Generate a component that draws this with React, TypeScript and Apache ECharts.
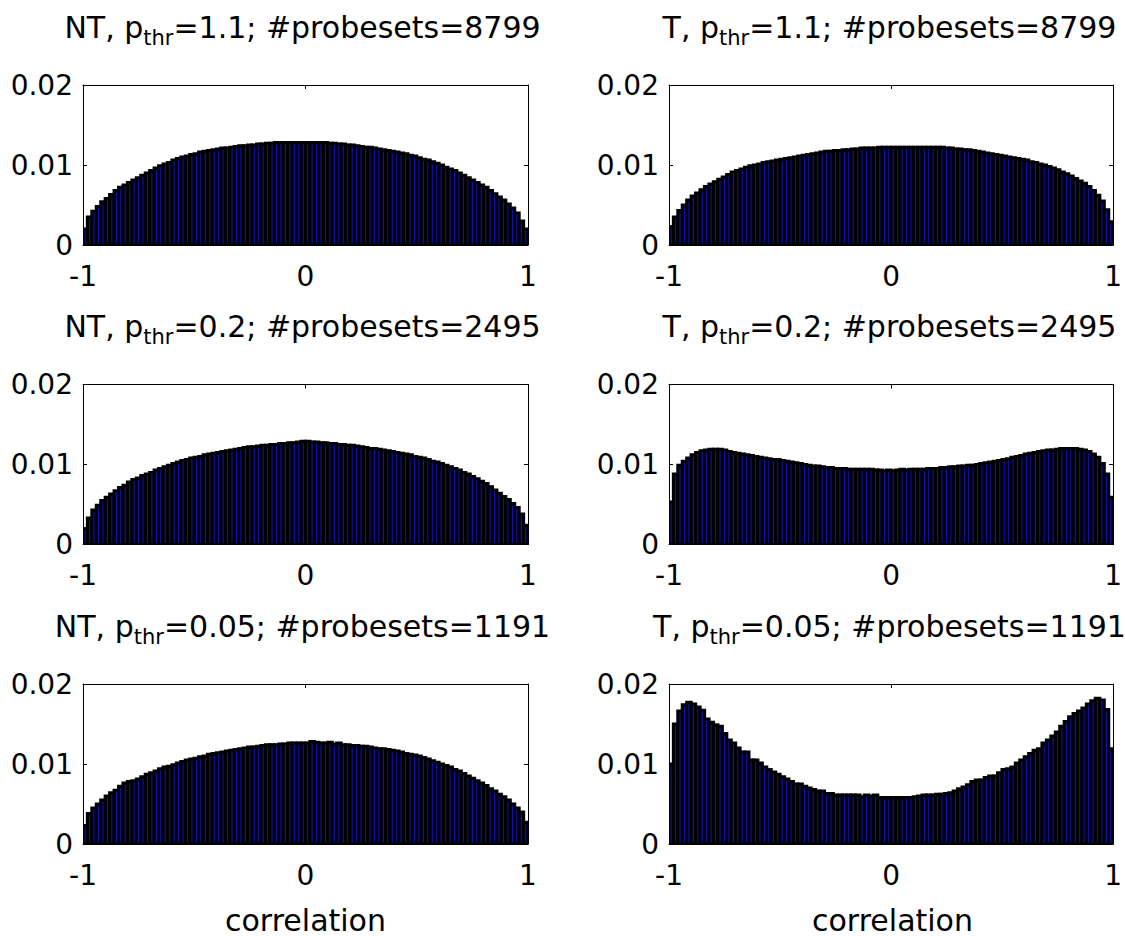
import React, { useEffect, useRef } from "react";
import * as echarts from "echarts";

// ---- data ----
const BIN_WIDTH = 0.02;
const BIN_CENTERS: number[] = Array.from({ length: 100 }, (_, i) => Math.round((-0.99 + 0.02 * i) * 100) / 100);

const NT_P11 = [
  0.0020, 0.0035, 0.0042, 0.0048, 0.0054, 0.0058, 0.0063, 0.0068, 0.0072, 0.0075,
  0.0078, 0.0081, 0.0084, 0.0087, 0.0090, 0.0093, 0.0096, 0.0099, 0.0101, 0.0103,
  0.0106, 0.0108, 0.0110, 0.0111, 0.0113, 0.0114, 0.0116, 0.0117, 0.0118, 0.0119,
  0.0120, 0.0121, 0.0121, 0.0122, 0.0123, 0.0124, 0.0124, 0.0125, 0.0125, 0.0126,
  0.0126, 0.0127, 0.0127, 0.0128, 0.0128, 0.0128, 0.0128, 0.0128, 0.0128, 0.0128,
  0.0128, 0.0128, 0.0128, 0.0128, 0.0128, 0.0127, 0.0127, 0.0126, 0.0126, 0.0125,
  0.0125, 0.0124, 0.0123, 0.0122, 0.0122, 0.0121, 0.0120, 0.0119, 0.0118, 0.0117,
  0.0116, 0.0115, 0.0114, 0.0112, 0.0111, 0.0109, 0.0107, 0.0106, 0.0104, 0.0102,
  0.0100, 0.0097, 0.0095, 0.0093, 0.0090, 0.0087, 0.0084, 0.0081, 0.0078, 0.0075,
  0.0072, 0.0068, 0.0064, 0.0060, 0.0056, 0.0051, 0.0046, 0.0040, 0.0030, 0.0020,
];

const T_P11 = [
  0.0023, 0.0035, 0.0043, 0.0050, 0.0056, 0.0061, 0.0065, 0.0069, 0.0073, 0.0076,
  0.0079, 0.0082, 0.0085, 0.0088, 0.0091, 0.0093, 0.0095, 0.0097, 0.0099, 0.0100,
  0.0101, 0.0103, 0.0104, 0.0105, 0.0106, 0.0107, 0.0108, 0.0109, 0.0110, 0.0111,
  0.0112, 0.0113, 0.0114, 0.0115, 0.0116, 0.0117, 0.0117, 0.0118, 0.0118, 0.0119,
  0.0119, 0.0120, 0.0120, 0.0121, 0.0121, 0.0121, 0.0121, 0.0122, 0.0122, 0.0122,
  0.0122, 0.0122, 0.0122, 0.0122, 0.0122, 0.0122, 0.0122, 0.0122, 0.0122, 0.0122,
  0.0122, 0.0122, 0.0121, 0.0121, 0.0120, 0.0120, 0.0119, 0.0119, 0.0118, 0.0117,
  0.0116, 0.0115, 0.0114, 0.0113, 0.0112, 0.0111, 0.0110, 0.0109, 0.0108, 0.0107,
  0.0106, 0.0104, 0.0103, 0.0101, 0.0100, 0.0098, 0.0096, 0.0094, 0.0091, 0.0089,
  0.0086, 0.0083, 0.0080, 0.0077, 0.0073, 0.0068, 0.0062, 0.0055, 0.0044, 0.0029,
];

const NT_P02 = [
  0.0020, 0.0033, 0.0043, 0.0049, 0.0055, 0.0059, 0.0063, 0.0067, 0.0071, 0.0074,
  0.0078, 0.0081, 0.0083, 0.0086, 0.0088, 0.0090, 0.0093, 0.0095, 0.0097, 0.0099,
  0.0101, 0.0103, 0.0105, 0.0106, 0.0108, 0.0109, 0.0110, 0.0112, 0.0113, 0.0114,
  0.0115, 0.0116, 0.0117, 0.0118, 0.0119, 0.0120, 0.0121, 0.0122, 0.0122, 0.0123,
  0.0124, 0.0124, 0.0125, 0.0125, 0.0126, 0.0126, 0.0127, 0.0127, 0.0128, 0.0129,
  0.0129, 0.0128, 0.0128, 0.0127, 0.0127, 0.0126, 0.0126, 0.0125, 0.0125, 0.0124,
  0.0124, 0.0123, 0.0122, 0.0121, 0.0120, 0.0120, 0.0119, 0.0118, 0.0117, 0.0116,
  0.0115, 0.0114, 0.0113, 0.0112, 0.0110, 0.0109, 0.0108, 0.0106, 0.0104, 0.0103,
  0.0101, 0.0099, 0.0097, 0.0095, 0.0093, 0.0090, 0.0088, 0.0085, 0.0082, 0.0079,
  0.0076, 0.0072, 0.0068, 0.0064, 0.0060, 0.0056, 0.0051, 0.0046, 0.0038, 0.0024,
];

const T_P02 = [
  0.0053, 0.0088, 0.0099, 0.0104, 0.0108, 0.0112, 0.0115, 0.0117, 0.0118, 0.0119,
  0.0119, 0.0119, 0.0118, 0.0116, 0.0115, 0.0114, 0.0113, 0.0112, 0.0111, 0.0110,
  0.0109, 0.0108, 0.0107, 0.0106, 0.0106, 0.0105, 0.0104, 0.0103, 0.0102, 0.0101,
  0.0100, 0.0099, 0.0098, 0.0098, 0.0097, 0.0096, 0.0096, 0.0095, 0.0095, 0.0095,
  0.0094, 0.0094, 0.0094, 0.0094, 0.0094, 0.0094, 0.0093, 0.0093, 0.0092, 0.0093,
  0.0092, 0.0093, 0.0094, 0.0093, 0.0094, 0.0094, 0.0094, 0.0094, 0.0095, 0.0095,
  0.0095, 0.0096, 0.0096, 0.0097, 0.0097, 0.0098, 0.0098, 0.0099, 0.0099, 0.0100,
  0.0101, 0.0102, 0.0103, 0.0104, 0.0105, 0.0106, 0.0107, 0.0109, 0.0110, 0.0111,
  0.0113, 0.0114, 0.0115, 0.0116, 0.0117, 0.0118, 0.0118, 0.0119, 0.0120, 0.0120,
  0.0120, 0.0120, 0.0119, 0.0118, 0.0116, 0.0113, 0.0109, 0.0101, 0.0088, 0.0059,
];

const NT_P005 = [
  0.0023, 0.0038, 0.0045, 0.0050, 0.0055, 0.0060, 0.0064, 0.0067, 0.0072, 0.0076,
  0.0078, 0.0079, 0.0081, 0.0084, 0.0087, 0.0089, 0.0091, 0.0094, 0.0096, 0.0097,
  0.0099, 0.0101, 0.0103, 0.0105, 0.0106, 0.0107, 0.0109, 0.0110, 0.0112, 0.0113,
  0.0114, 0.0115, 0.0116, 0.0117, 0.0118, 0.0119, 0.0120, 0.0121, 0.0121, 0.0122,
  0.0123, 0.0124, 0.0124, 0.0124, 0.0125, 0.0125, 0.0126, 0.0126, 0.0126, 0.0126,
  0.0126, 0.0128, 0.0127, 0.0126, 0.0126, 0.0127, 0.0125, 0.0126, 0.0124, 0.0124,
  0.0123, 0.0123, 0.0122, 0.0122, 0.0121, 0.0120, 0.0119, 0.0119, 0.0118, 0.0117,
  0.0116, 0.0115, 0.0113, 0.0112, 0.0111, 0.0110, 0.0108, 0.0106, 0.0104, 0.0102,
  0.0100, 0.0098, 0.0096, 0.0093, 0.0091, 0.0088, 0.0085, 0.0082, 0.0079, 0.0076,
  0.0073, 0.0069, 0.0066, 0.0062, 0.0059, 0.0055, 0.0050, 0.0045, 0.0040, 0.0027,
];

const T_P005 = [
  0.0100, 0.0150, 0.0166, 0.0174, 0.0177, 0.0175, 0.0171, 0.0167, 0.0156, 0.0152,
  0.0149, 0.0147, 0.0138, 0.0130, 0.0126, 0.0120, 0.0115, 0.0115, 0.0105, 0.0105,
  0.0101, 0.0096, 0.0093, 0.0090, 0.0087, 0.0084, 0.0081, 0.0078, 0.0075, 0.0075,
  0.0072, 0.0070, 0.0068, 0.0066, 0.0066, 0.0063, 0.0063, 0.0061, 0.0061, 0.0061,
  0.0061, 0.0061, 0.0061, 0.0059, 0.0061, 0.0060, 0.0061, 0.0058, 0.0058, 0.0058,
  0.0058, 0.0058, 0.0058, 0.0058, 0.0058, 0.0059, 0.0060, 0.0061, 0.0061, 0.0061,
  0.0062, 0.0062, 0.0063, 0.0064, 0.0066, 0.0069, 0.0071, 0.0074, 0.0078, 0.0080,
  0.0080, 0.0083, 0.0085, 0.0085, 0.0089, 0.0093, 0.0094, 0.0096, 0.0101, 0.0105,
  0.0109, 0.0113, 0.0117, 0.0119, 0.0126, 0.0130, 0.0135, 0.0140, 0.0147, 0.0153,
  0.0159, 0.0163, 0.0166, 0.0170, 0.0175, 0.0179, 0.0182, 0.0180, 0.0168, 0.0119,
];

const GROUPS = ["NT", "T"];
const P_THR = ["1.1", "0.2", "0.05"];
const PROBESETS = [8799, 2495, 1191];
const PANEL_DATA = [
  [NT_P11, T_P11],
  [NT_P02, T_P02],
  [NT_P005, T_P005],
];
const X_LABEL = "correlation";

// ---- layout ----
const FONT = "DejaVu Sans";
const GRID_LEFT = [83, 669];
const GRID_WIDTH = [445, 447];
const GRID_TOP = [85, 384.5, 684];
const GRID_HEIGHT = 160;
const TITLE_CENTER_Y = [30, 329.5, 629];
const BAR_FILL = "#1010b0";

export default function App() {
  const ref = useRef<HTMLDivElement>(null);

  useEffect(() => {
    if (!ref.current) return;
    const chart = echarts.init(ref.current, null, { renderer: "svg", width: 1125, height: 936 });

    const grids: any[] = [];
    const xAxes: any[] = [];
    const yAxes: any[] = [];
    const series: any[] = [];
    const graphics: any[] = [];

    const axisLine = { show: true, onZero: false, lineStyle: { color: "#000", width: 1 } };
    const axisTick = { show: true, inside: true, length: 4, lineStyle: { color: "#000", width: 1 } };

    for (let r = 0; r < 3; r++) {
      for (let c = 0; c < 2; c++) {
        const gi = grids.length;
        grids.push({
          left: GRID_LEFT[c],
          top: GRID_TOP[r],
          width: GRID_WIDTH[c],
          height: GRID_HEIGHT,
          containLabel: false,
        });
        const xi = xAxes.length;
        xAxes.push({
          type: "value",
          gridIndex: gi,
          position: "bottom",
          min: -1,
          max: 1,
          interval: 1,
          axisLine,
          axisTick,
          splitLine: { show: false },
          axisLabel: { color: "#000", fontFamily: FONT, fontSize: 28, margin: 17 },
        });
        xAxes.push({
          type: "value",
          gridIndex: gi,
          position: "top",
          min: -1,
          max: 1,
          interval: 1,
          axisLine,
          axisTick,
          splitLine: { show: false },
          axisLabel: { show: false },
        });
        const yi = yAxes.length;
        yAxes.push({
          type: "value",
          gridIndex: gi,
          position: "left",
          min: 0,
          max: 0.02,
          interval: 0.01,
          axisLine,
          axisTick,
          splitLine: { show: false },
          axisLabel: {
            color: "#000",
            fontFamily: FONT,
            fontSize: 28,
            margin: 10,
            formatter: (v: number) => (v === 0 ? "0" : v.toFixed(2)),
          },
        });
        yAxes.push({
          type: "value",
          gridIndex: gi,
          position: "right",
          min: 0,
          max: 0.02,
          interval: 0.01,
          axisLine,
          axisTick,
          splitLine: { show: false },
          axisLabel: { show: false },
        });

        const values = PANEL_DATA[r][c];
        series.push({
          type: "custom",
          xAxisIndex: xi,
          yAxisIndex: yi,
          clip: true,
          data: BIN_CENTERS.map((x, i) => [x, values[i]]),
          renderItem: (params: any, api: any) => {
            const x = api.value(0);
            const v = api.value(1);
            const p0 = api.coord([x - BIN_WIDTH / 2, v]);
            const p1 = api.coord([x + BIN_WIDTH / 2, 0]);
            return {
              type: "rect",
              shape: { x: p0[0], y: p0[1], width: p1[0] - p0[0], height: p1[1] - p0[1] },
              style: { fill: BAR_FILL, stroke: "#000", lineWidth: 3.2 },
            };
          },
        });

        const cx = GRID_LEFT[c] + GRID_WIDTH[c] / 2 - 3;
        graphics.push({
          type: "text",
          x: cx,
          y: TITLE_CENTER_Y[r] - 18,
          style: {
            text: `{a|${GROUPS[c]}, p}{s|thr}{a|=${P_THR[r]}; #probesets=${PROBESETS[r]}}`,
            align: "center",
            verticalAlign: "top",
            fill: "#000",
            rich: {
              a: { fontFamily: FONT, fontSize: 30, lineHeight: 36, padding: [0, 0, 15, 0], verticalAlign: "top", fill: "#000" },
              s: { fontFamily: FONT, fontSize: 21, lineHeight: 22, verticalAlign: "bottom", fill: "#000" },
            },
          },
        });

        if (r === 2) {
          graphics.push({
            type: "text",
            x: GRID_LEFT[c] + GRID_WIDTH[c] / 2,
            y: 920,
            style: {
              text: X_LABEL,
              align: "center",
              verticalAlign: "middle",
              fill: "#000",
              fontFamily: FONT,
              fontSize: 30,
            },
          });
        }
      }
    }

    chart.setOption({
      animation: false,
      backgroundColor: "#fff",
      grid: grids,
      xAxis: xAxes,
      yAxis: yAxes,
      series,
      graphic: graphics,
    });

    return () => chart.dispose();
  }, []);

  return <div ref={ref} style={{ position: "absolute", left: 0, top: 0, width: 1125, height: 936 }} />;
}
